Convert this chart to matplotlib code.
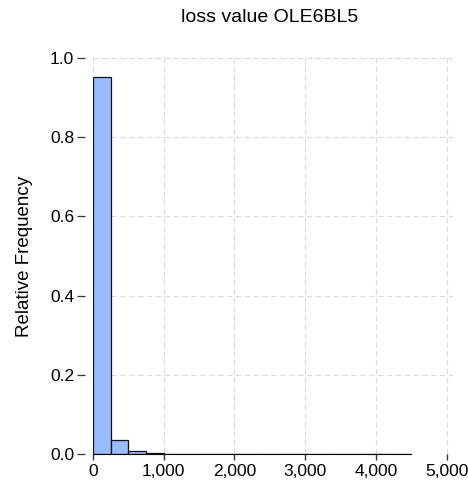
import matplotlib
matplotlib.use("Agg")
import matplotlib.pyplot as plt
import numpy as np

# histogram bins (loss value) and relative frequencies
bin_edges = [0, 250, 500, 750, 1000, 1250, 1500, 1750, 2000, 2250, 2500,
             2750, 3000, 3250, 3500, 3750, 4000, 4250, 4500]
rel_freq = [0.953, 0.035, 0.0075, 0.0022, 0.0008, 0.0006, 0.0005, 0.0005,
            0.0005, 0.0002, 0.0008, 0.0002, 0.0001, 0.0001, 0.0001, 0.0001,
            0.0001, 0.0008]
x_ticks = [0, 1000, 2000, 3000, 4000, 5000]
y_ticks = [0.0, 0.2, 0.4, 0.6, 0.8, 1.0]

plt.rcParams['font.family'] = ['Liberation Sans', 'DejaVu Sans']

fig = plt.figure(figsize=(4.68, 4.83), dpi=100)
ax = fig.add_axes([93 / 468, 29 / 483, 360 / 468, 396 / 483])

lefts = np.array(bin_edges[:-1])
widths = np.diff(bin_edges)
ax.bar(lefts, rel_freq, width=widths, align='edge', color='#99bbff',
       edgecolor='#111111', linewidth=0.9, zorder=3)

ax.set_xlim(0, 5090)
ax.set_ylim(0, 1.0)
ax.set_xticks(x_ticks)
ax.set_xticklabels([f"{t:,}" for t in x_ticks])
ax.set_yticks(y_ticks)
ax.set_yticklabels([f"{t:.1f}" for t in y_ticks])

ax.grid(True, color='#dadada', linestyle=(0, (5, 3)), linewidth=0.8, zorder=0)

for side in ['top', 'right', 'left']:
    ax.spines[side].set_visible(False)
ax.spines['bottom'].set_bounds(0, 4500)
ax.spines['bottom'].set_color('black')
ax.spines['bottom'].set_zorder(4)
ax.spines['left'].set_position(('outward', 6))

ax.tick_params(axis='x', direction='out', length=4, width=1, color='#333333',
               labelsize=12.5, pad=3)
ax.tick_params(axis='y', direction='out', length=6, width=0.9, color='#333333',
               labelsize=12.5, pad=1.5)

ax.set_ylabel('Relative Frequency', fontsize=13.5, labelpad=12)
fig.text(270 / 468, 1 - 18 / 483, 'loss value OLE6BL5', ha='center',
         va='center', fontsize=14)

fig.savefig('out.png', dpi=100)
